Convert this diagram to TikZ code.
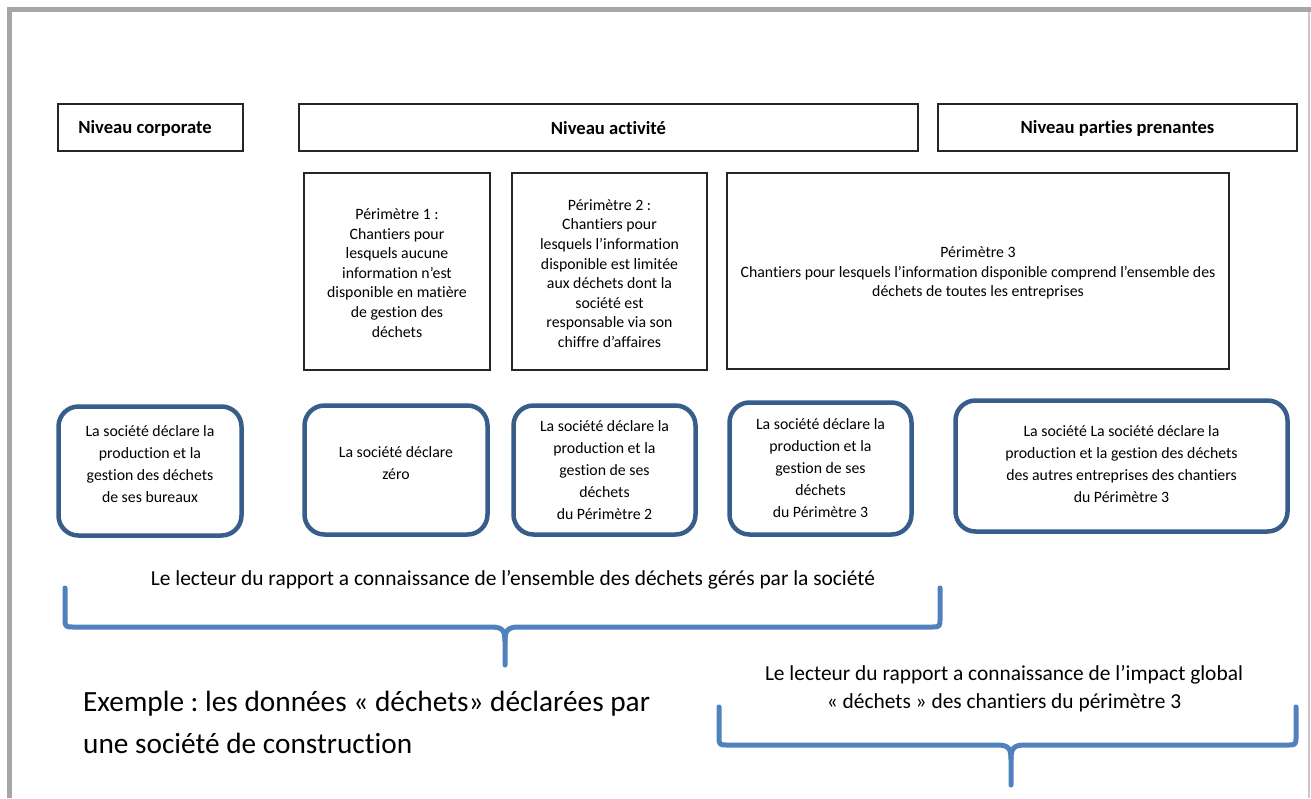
\documentclass[tikz,border=0pt]{standalone}
\usepackage{fontspec}
\setmainfont{Carlito}[Ligatures=NoCommon]
\frenchspacing
\definecolor{framegray}{RGB}{166,166,166}
\definecolor{rimgray}{RGB}{200,200,200}
\definecolor{boxblue}{RGB}{56,93,138}
\definecolor{braceblue}{RGB}{79,129,189}
\tikzset{
  sq/.style={draw=black!85, line width=1.1pt, rectangle, inner sep=0pt},
  rbox/.style={draw=boxblue, line width=4.5pt, rectangle, rounded corners=20pt, inner sep=0pt},
  txt/.style={align=center, inner sep=0pt, font=\fontsize{15.8}{19.6}\selectfont},
  btxt/.style={align=center, inner sep=0pt, font=\fontsize{15.8}{21.8}\selectfont},
  hdr/.style={inner sep=0pt, font=\fontsize{18.6}{22}\selectfont\bfseries},
  ltxt/.style={align=center, inner sep=0pt, font=\fontsize{21.4}{28}\selectfont},
  bracestyle/.style={draw=braceblue, line width=5pt, line cap=round, line join=round},
}
\begin{document}
\begin{tikzpicture}[x=1pt, y=-1pt]
\useasboundingbox (0,0) rectangle (1311,798);
% page frame
\draw[line width=5pt, framegray] (9.5,798) -- (9.5,9.5) -- (1311,9.5);
\draw[line width=1.2pt, rimgray] (1309,12) -- (1309,798);

% header boxes
\node[sq, minimum width=185pt, minimum height=47pt] (corp) at (150.5,127.5) {};
\node[hdr] (corpT) at (145,128) {Niveau corporate};
\node[sq, minimum width=619pt, minimum height=47pt] (act) at (608.5,127.5) {};
\node[hdr] (actT) at (608.5,128) {Niveau activité};
\node[sq, minimum width=359pt, minimum height=47pt] (pp) at (1117.5,127.5) {};
\node[hdr] (ppT) at (1117.5,128) {Niveau parties prenantes};

% perimeter boxes
\node[sq, minimum width=186pt, minimum height=197pt] (p1) at (397,271.5) {};
\node[txt] (p1T) at (397,273) {Périmètre 1 :\\Chantiers pour\\lesquels aucune\\information n’est\\disponible en matière\\de gestion des\\déchets};
\node[sq, minimum width=195pt, minimum height=197pt] (p2) at (609.5,271.5) {};
\node[txt] (p2T) at (609.5,273.5) {Périmètre 2 :\\Chantiers pour\\lesquels l’information\\disponible est limitée\\aux déchets dont la\\société est\\responsable via son\\chiffre d’affaires};
\node[sq, minimum width=502pt, minimum height=196pt] (p3) at (978,271) {};
\node[txt] (p3T) at (978,273) {Périmètre 3\\Chantiers pour lesquels l’information disponible comprend l’ensemble des\\déchets de toutes les entreprises};

% rounded boxes
\node[rbox, minimum width=183pt, minimum height=129pt] (r1) at (150,471) {};
\node[btxt] (r1T) at (150,464) {La société déclare la\\production et la\\gestion des déchets\\de ses bureaux};
\node[rbox, minimum width=183pt, minimum height=129pt] (r2) at (396,470) {};
\node[btxt] (r2T) at (396,463) {La société déclare\\zéro};
\node[rbox, minimum width=182pt, minimum height=129pt] (r3) at (604.5,470) {};
\node[btxt] (r3T) at (604.5,470) {La société déclare la\\production et la\\gestion de ses\\déchets\\du Périmètre 2};
\node[rbox, minimum width=182pt, minimum height=132pt] (r4) at (820.5,468.5) {};
\node[btxt] (r4T) at (820.5,468) {La société déclare la\\production et la\\gestion de ses\\déchets\\du Périmètre 3};
\node[rbox, minimum width=332pt, minimum height=131pt] (r5) at (1121.5,466) {};
\node[btxt] (r5T) at (1121.5,464) {La société La société déclare la\\production et la gestion des déchets\\des autres entreprises des chantiers\\du Périmètre 3};

% reader statements
\node[ltxt] (lect1) at (513,580) {Le lecteur du rapport a connaissance de l’ensemble des déchets gérés par la société};
\node[ltxt] (lect2) at (1004,689) {Le lecteur du rapport a connaissance de l’impact global\\« déchets » des chantiers du périmètre 3};

% example caption
\node[align=left, anchor=west, inner sep=0pt, font=\fontsize{29.3}{42}\selectfont] (ex) at (83,722) {Exemple : les données « déchets» déclarées par\\une société de construction};

% brace 1
\coordinate (b1l) at (65,588);
\coordinate (b1r) at (940,588);
\coordinate (b1t) at (505,665);
\draw[bracestyle] (b1l) -- (65,618) .. controls (65,627) .. (74,627) -- (491,627)
  .. controls (502,627) and (505,630) .. (505,641) -- (b1t);
\draw[bracestyle] (b1r) -- (940,618) .. controls (940,627) .. (931,627) -- (519,627)
  .. controls (508,627) and (505,630) .. (505,641);

% brace 2
\coordinate (b2l) at (719,707);
\coordinate (b2r) at (1296,707);
\coordinate (b2t) at (1011,785);
\draw[bracestyle] (b2l) -- (719,736) .. controls (719,745) .. (728,745) -- (997,745)
  .. controls (1008,745) and (1011,748) .. (1011,759) -- (b2t);
\draw[bracestyle] (b2r) -- (1296,736) .. controls (1296,745) .. (1287,745) -- (1025,745)
  .. controls (1014,745) and (1011,748) .. (1011,759);
\end{tikzpicture}
\end{document}
